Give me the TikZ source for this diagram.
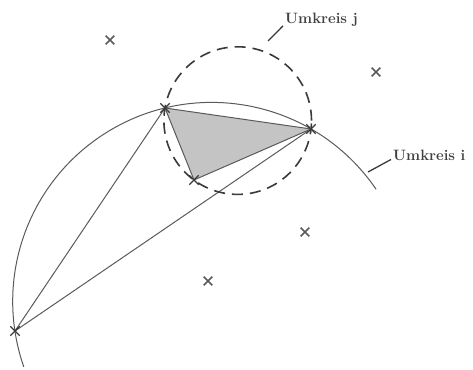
\documentclass[tikz,border=0pt]{standalone}
\usepackage{xcolor,tikz}
\usetikzlibrary{positioning,calc,shapes.misc}
\definecolor{umLine}{HTML}{5A5A5A}
\definecolor{umDark}{HTML}{3A3A3A}
\definecolor{umFill}{HTML}{C4C4C4}
\definecolor{umText}{HTML}{404040}

\tikzset{
  kreuz/.style={cross out, draw=umLine, line width=1.6pt, minimum size=7pt, inner sep=0pt},
  ecke/.style={cross out, draw=umDark, line width=1.4pt, minimum size=8pt, inner sep=0pt},
  kante/.style={umLine, line width=1pt},
  beschr/.style={font=\fontsize{15}{18}\selectfont\bfseries, text=umText, inner sep=0pt, anchor=west}
}

\begin{document}
\begin{tikzpicture}[x=1pt, y=1pt]
\useasboundingbox (0,0) rectangle (473,369);

% --- PUNKTE ---
\coordinate (pA) at (165,261);
\coordinate (pB) at (311,240);
\coordinate (pC) at (194,189);
\coordinate (pD) at (15,38);

% --- UMKREISE (Mittelpunkt / Radius) ---
\coordinate (mJ) at (237.7,248.4);
\def\rJ{73.8}
\coordinate (mI) at (211.7,67.6);
\def\rI{199}
\def\aStart{34.3}
\def\aEnd{199.2}

% --- DREIECK j (schattiert) ---
\fill[umFill] (pA) -- (pB) -- (pC) -- cycle;

% --- KANTEN ---
\draw[kante] (pA) -- (pB);
\draw[kante] (pA) -- (pC);
\draw[kante] (pC) -- (pB);
\draw[kante] (pA) -- (pD);
\draw[kante] (pB) -- (pD);

% --- UMKREIS i (Bogen) ---
\draw[kante] (mI) ++(\aStart:\rI)
  arc[start angle=\aStart, end angle=\aEnd, radius=\rI];

% --- UMKREIS j (gestrichelt) ---
\draw[umDark, line width=1.6pt, dash pattern=on 11pt off 7pt]
  (mJ) circle (\rJ);

% --- ECKEN ---
\foreach \p in {pA, pB, pC, pD} {
  \node[ecke] (e\p) at (\p) {};
}

% --- WEITERE PUNKTE ---
\node[kreuz] (qA) at (110,329) {};
\node[kreuz] (qB) at (376,297) {};
\node[kreuz] (qC) at (305,137) {};
\node[kreuz] (qD) at (208,88) {};

% --- BESCHRIFTUNG ---
\node[beschr] (lJ) at (285,349) {Umkreis j};
\coordinate (lJs) at (268,328);
\draw[umDark, line width=1.3pt] (lJs) -- ([shift={(-2,1)}]lJ.south west);

\node[beschr] (lI) at (393,214) {Umkreis i};
\coordinate (lIs) at (368,197);
\draw[umDark, line width=1.3pt] (lIs) -- ([shift={(-2,1)}]lI.south west);

\end{tikzpicture}
\end{document}
